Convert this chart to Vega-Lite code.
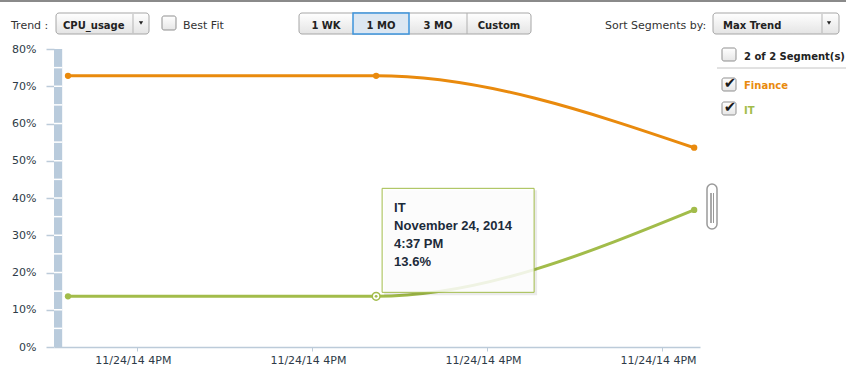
{
  "$schema": "https://vega.github.io/schema/vega-lite/v6.json",
  "width": 646,
  "height": 298,
  "autosize": {"type": "none"},
  "padding": {"left": 54, "top": 49, "right": 146, "bottom": 22},
  "background": "white",
  "config": {
    "view": {"stroke": null},
    "axis": {"labelFont": "DejaVu Sans", "labelFontSize": 11, "labelColor": "#2e3b48", "title": null, "labelOverlap": false},
    "axisY": {"tickSize": 8, "tickColor": "#bccbd9", "tickWidth": 1.5, "domain": false, "gridColor": "#e9e9e9", "labelPadding": 10, "tickCount": 12},
    "axisX": {"tickSize": 4, "tickColor": "#bccbd9", "domainColor": "#bccbd9", "domainWidth": 1.5, "labelPadding": 3, "labelOffset": -4, "grid": false, "labelFlush": false, "tickCount": 12}
  },
  "datasets": {
    "cpu": [
      {"segment": "Finance", "time": "2014-11-24T16:28:02", "cpu": 0.728},
      {"segment": "Finance", "time": "2014-11-24T16:36:50", "cpu": 0.728},
      {"segment": "Finance", "time": "2014-11-24T16:45:55", "cpu": 0.535},
      {"segment": "IT", "time": "2014-11-24T16:28:02", "cpu": 0.136},
      {"segment": "IT", "time": "2014-11-24T16:36:50", "cpu": 0.136},
      {"segment": "IT", "time": "2014-11-24T16:45:55", "cpu": 0.368}
    ],
    "hover": [
      {"segment": "IT", "time": "2014-11-24T16:36:50", "cpu": 0.136, "lines": ["IT", "November 24, 2014", "4:37 PM", "13.6%"]}
    ],
    "levels": [
      {"level": 0.05}, {"level": 0.1}, {"level": 0.15}, {"level": 0.2}, {"level": 0.25},
      {"level": 0.3}, {"level": 0.35}, {"level": 0.4}, {"level": 0.45}, {"level": 0.5},
      {"level": 0.55}, {"level": 0.6}, {"level": 0.65}, {"level": 0.7}, {"level": 0.75}
    ],
    "one": [{}]
  },
  "data": {"name": "cpu"},
  "layer": [
    {
      "data": {"name": "one"},
      "mark": {"type": "rect", "color": "#b9cbdc"},
      "encoding": {
        "x": {"datum": {"year": 2014, "month": 11, "date": 24, "hours": 16, "minutes": 27, "seconds": 38}, "type": "temporal",
          "scale": {"domain": [{"year": 2014, "month": 11, "date": 24, "hours": 16, "minutes": 27, "seconds": 38}, {"year": 2014, "month": 11, "date": 24, "hours": 16, "minutes": 46, "seconds": 5}]},
          "axis": {
            "values": [
              {"year": 2014, "month": 11, "date": 24, "hours": 16, "minutes": 30},
              {"year": 2014, "month": 11, "date": 24, "hours": 16, "minutes": 35},
              {"year": 2014, "month": 11, "date": 24, "hours": 16, "minutes": 40},
              {"year": 2014, "month": 11, "date": 24, "hours": 16, "minutes": 45}
            ],
            "format": "%m/%d/%y %-I%p", "formatType": "time"
          }},
        "x2": {"datum": {"year": 2014, "month": 11, "date": 24, "hours": 16, "minutes": 27, "seconds": 52}},
        "y": {"datum": 0, "type": "quantitative",
          "scale": {"domain": [0, 0.8]},
          "axis": {"values": [0, 0.1, 0.2, 0.3, 0.4, 0.5, 0.6, 0.7, 0.8], "format": ".0%", "tickCount": 12}},
        "y2": {"datum": 0.8}
      }
    },
    {
      "data": {"name": "levels"},
      "mark": {"type": "rule", "color": "white", "strokeWidth": 1.5},
      "encoding": {
        "x": {"datum": {"year": 2014, "month": 11, "date": 24, "hours": 16, "minutes": 27, "seconds": 38}, "type": "temporal"},
        "x2": {"datum": {"year": 2014, "month": 11, "date": 24, "hours": 16, "minutes": 27, "seconds": 52}},
        "y": {"field": "level", "type": "quantitative"}
      }
    },
    {
      "mark": {"type": "line", "interpolate": "monotone", "strokeWidth": 3, "strokeCap": "round"},
      "encoding": {
        "x": {"field": "time", "type": "temporal"},
        "y": {"field": "cpu", "type": "quantitative"},
        "color": {"field": "segment", "type": "nominal", "scale": {"domain": ["Finance", "IT"], "range": ["#e98a0d", "#a2bc4a"]}, "legend": null}
      }
    },
    {
      "mark": {"type": "point", "filled": true, "size": 40, "opacity": 1},
      "encoding": {
        "x": {"field": "time", "type": "temporal"},
        "y": {"field": "cpu", "type": "quantitative"},
        "color": {"field": "segment", "type": "nominal", "legend": null}
      }
    },
    {
      "data": {"name": "hover"},
      "mark": {"type": "point", "shape": "circle", "size": 60, "fill": "white", "stroke": "#a2bc4a", "strokeWidth": 1.5, "opacity": 1},
      "encoding": {"x": {"field": "time", "type": "temporal"}, "y": {"field": "cpu", "type": "quantitative"}}
    },
    {
      "data": {"name": "hover"},
      "mark": {"type": "point", "shape": "circle", "size": 8, "filled": true, "color": "#a2bc4a", "opacity": 1},
      "encoding": {"x": {"field": "time", "type": "temporal"}, "y": {"field": "cpu", "type": "quantitative"}}
    },
    {
      "data": {"name": "hover"},
      "mark": {"type": "rect", "color": "#000000", "opacity": 0.08, "xOffset": 8, "x2Offset": 161, "yOffset": -106, "y2Offset": -1},
      "encoding": {"x": {"field": "time", "type": "temporal"}, "x2": {"field": "time"}, "y": {"field": "cpu", "type": "quantitative"}, "y2": {"field": "cpu"}}
    },
    {
      "data": {"name": "hover"},
      "mark": {"type": "rect", "fill": "white", "fillOpacity": 0.85, "stroke": "#a2bc4a", "strokeWidth": 1, "xOffset": 6, "x2Offset": 158, "yOffset": -108, "y2Offset": -4},
      "encoding": {"x": {"field": "time", "type": "temporal"}, "x2": {"field": "time"}, "y": {"field": "cpu", "type": "quantitative"}, "y2": {"field": "cpu"}}
    },
    {
      "data": {"name": "hover"},
      "mark": {"type": "text", "align": "left", "baseline": "alphabetic", "font": "Liberation Sans", "fontWeight": "bold", "fontSize": 13, "lineHeight": 18, "color": "#1c2b3a", "xOffset": 18, "yOffset": -84},
      "encoding": {"x": {"field": "time", "type": "temporal"}, "y": {"field": "cpu", "type": "quantitative"}, "text": {"field": "lines"}}
    },

    {"data": {"name": "one"}, "mark": {"type": "rule", "color": "#8a8a8a", "strokeWidth": 2},
      "encoding": {"x": {"value": -54}, "x2": {"value": 792}, "y": {"value": -48}}},

    {"data": {"name": "one"}, "mark": {"type": "text", "text": "Trend :", "align": "left", "font": "DejaVu Sans", "fontSize": 11, "color": "#333333"},
      "encoding": {"x": {"value": -43}, "y": {"value": -23}}},
    {"data": {"name": "one"}, "mark": {"type": "rect", "cornerRadius": 3, "stroke": "#a6a6a6", "strokeWidth": 1,
      "fill": {"gradient": "linear", "x1": 0, "y1": 0, "x2": 0, "y2": 1, "stops": [{"offset": 0, "color": "#ffffff"}, {"offset": 1, "color": "#e4e4e4"}]}},
      "encoding": {"x": {"value": 2}, "x2": {"value": 95}, "y": {"value": -36}, "y2": {"value": -15}}},
    {"data": {"name": "one"}, "mark": {"type": "rule", "color": "#b5b5b5"},
      "encoding": {"x": {"value": 79}, "y": {"value": -35}, "y2": {"value": -16}}},
    {"data": {"name": "one"}, "mark": {"type": "text", "text": "CPU_usage", "align": "left", "font": "DejaVu Sans", "fontWeight": "bold", "fontSize": 10, "color": "#222222"},
      "encoding": {"x": {"value": 9}, "y": {"value": -23}}},
    {"data": {"name": "one"}, "mark": {"type": "point", "shape": "triangle-down", "size": 18, "filled": true, "color": "#222222", "opacity": 1},
      "encoding": {"x": {"value": 87}, "y": {"value": -26}}},

    {"data": {"name": "one"}, "mark": {"type": "rect", "cornerRadius": 2, "stroke": "#8f8f8f", "strokeWidth": 1,
      "fill": {"gradient": "linear", "x1": 0, "y1": 0, "x2": 0, "y2": 1, "stops": [{"offset": 0, "color": "#ffffff"}, {"offset": 1, "color": "#e6e6e6"}]}},
      "encoding": {"x": {"value": 108}, "x2": {"value": 122}, "y": {"value": -33}, "y2": {"value": -19}}},
    {"data": {"name": "one"}, "mark": {"type": "text", "text": "Best Fit", "align": "left", "font": "DejaVu Sans", "fontSize": 11, "color": "#333333"},
      "encoding": {"x": {"value": 129}, "y": {"value": -23}}},

    {"data": {"name": "one"}, "mark": {"type": "rect", "cornerRadius": 3, "stroke": "#a6a6a6", "strokeWidth": 1,
      "fill": {"gradient": "linear", "x1": 0, "y1": 0, "x2": 0, "y2": 1, "stops": [{"offset": 0, "color": "#ffffff"}, {"offset": 1, "color": "#e4e4e4"}]}},
      "encoding": {"x": {"value": 245}, "x2": {"value": 477}, "y": {"value": -36}, "y2": {"value": -15}}},
    {"data": {"name": "one"}, "mark": {"type": "rect", "fill": "#dce7f2", "stroke": "#3d94dc", "strokeWidth": 1.5},
      "encoding": {"x": {"value": 299}, "x2": {"value": 355}, "y": {"value": -36}, "y2": {"value": -15}}},
    {"data": {"name": "one"}, "mark": {"type": "rule", "color": "#b0b0b0"},
      "encoding": {"x": {"value": 413}, "y": {"value": -36}, "y2": {"value": -15}}},
    {"data": {"name": "one"}, "mark": {"type": "text", "text": "1 WK", "align": "center", "font": "DejaVu Sans", "fontWeight": "bold", "fontSize": 10, "color": "#222222"},
      "encoding": {"x": {"value": 272}, "y": {"value": -23}}},
    {"data": {"name": "one"}, "mark": {"type": "text", "text": "1 MO", "align": "center", "font": "DejaVu Sans", "fontWeight": "bold", "fontSize": 10, "color": "#222222"},
      "encoding": {"x": {"value": 327}, "y": {"value": -23}}},
    {"data": {"name": "one"}, "mark": {"type": "text", "text": "3 MO", "align": "center", "font": "DejaVu Sans", "fontWeight": "bold", "fontSize": 10, "color": "#222222"},
      "encoding": {"x": {"value": 384}, "y": {"value": -23}}},
    {"data": {"name": "one"}, "mark": {"type": "text", "text": "Custom", "align": "center", "font": "DejaVu Sans", "fontWeight": "bold", "fontSize": 10, "color": "#222222"},
      "encoding": {"x": {"value": 445}, "y": {"value": -23}}},

    {"data": {"name": "one"}, "mark": {"type": "text", "text": "Sort Segments by:", "align": "left", "font": "DejaVu Sans", "fontSize": 11, "color": "#333333"},
      "encoding": {"x": {"value": 551}, "y": {"value": -23}}},
    {"data": {"name": "one"}, "mark": {"type": "rect", "cornerRadius": 3, "stroke": "#a6a6a6", "strokeWidth": 1,
      "fill": {"gradient": "linear", "x1": 0, "y1": 0, "x2": 0, "y2": 1, "stops": [{"offset": 0, "color": "#ffffff"}, {"offset": 1, "color": "#e4e4e4"}]}},
      "encoding": {"x": {"value": 659}, "x2": {"value": 785}, "y": {"value": -36}, "y2": {"value": -15}}},
    {"data": {"name": "one"}, "mark": {"type": "rule", "color": "#b5b5b5"},
      "encoding": {"x": {"value": 768}, "y": {"value": -35}, "y2": {"value": -16}}},
    {"data": {"name": "one"}, "mark": {"type": "text", "text": "Max Trend", "align": "left", "font": "DejaVu Sans", "fontWeight": "bold", "fontSize": 10, "color": "#222222"},
      "encoding": {"x": {"value": 669}, "y": {"value": -23}}},
    {"data": {"name": "one"}, "mark": {"type": "point", "shape": "triangle-down", "size": 18, "filled": true, "color": "#222222", "opacity": 1},
      "encoding": {"x": {"value": 775}, "y": {"value": -26}}},

    {"data": {"name": "one"}, "mark": {"type": "rect", "cornerRadius": 2, "stroke": "#8f8f8f", "strokeWidth": 1,
      "fill": {"gradient": "linear", "x1": 0, "y1": 0, "x2": 0, "y2": 1, "stops": [{"offset": 0, "color": "#ffffff"}, {"offset": 1, "color": "#e6e6e6"}]}},
      "encoding": {"x": {"value": 668}, "x2": {"value": 682}, "y": {"value": -1}, "y2": {"value": 12}}},
    {"data": {"name": "one"}, "mark": {"type": "text", "text": "2 of 2 Segment(s)", "align": "left", "font": "DejaVu Sans", "fontWeight": "bold", "fontSize": 10, "color": "#222222"},
      "encoding": {"x": {"value": 690}, "y": {"value": 8}}},
    {"data": {"name": "one"}, "mark": {"type": "rule", "color": "#c4c4c4", "strokeWidth": 1},
      "encoding": {"x": {"value": 663}, "x2": {"value": 792}, "y": {"value": 19}}},

    {"data": {"name": "one"}, "mark": {"type": "rect", "cornerRadius": 2, "stroke": "#8f8f8f", "strokeWidth": 1,
      "fill": {"gradient": "linear", "x1": 0, "y1": 0, "x2": 0, "y2": 1, "stops": [{"offset": 0, "color": "#ffffff"}, {"offset": 1, "color": "#e6e6e6"}]}},
      "encoding": {"x": {"value": 668}, "x2": {"value": 682}, "y": {"value": 29}, "y2": {"value": 42}}},
    {"data": {"name": "one"}, "mark": {"type": "text", "text": "✔", "align": "center", "baseline": "middle", "font": "DejaVu Sans", "fontSize": 15, "color": "#1a1a1a"},
      "encoding": {"x": {"value": 676}, "y": {"value": 34}}},
    {"data": {"values": [{"segment": "Finance"}]}, "mark": {"type": "text", "align": "left", "font": "DejaVu Sans", "fontWeight": "bold", "fontSize": 10},
      "encoding": {"x": {"value": 690}, "y": {"value": 37}, "text": {"field": "segment"}, "color": {"field": "segment", "type": "nominal", "legend": null}}},

    {"data": {"name": "one"}, "mark": {"type": "rect", "cornerRadius": 2, "stroke": "#8f8f8f", "strokeWidth": 1,
      "fill": {"gradient": "linear", "x1": 0, "y1": 0, "x2": 0, "y2": 1, "stops": [{"offset": 0, "color": "#ffffff"}, {"offset": 1, "color": "#e6e6e6"}]}},
      "encoding": {"x": {"value": 668}, "x2": {"value": 682}, "y": {"value": 53}, "y2": {"value": 66}}},
    {"data": {"name": "one"}, "mark": {"type": "text", "text": "✔", "align": "center", "baseline": "middle", "font": "DejaVu Sans", "fontSize": 15, "color": "#1a1a1a"},
      "encoding": {"x": {"value": 676}, "y": {"value": 58}}},
    {"data": {"values": [{"segment": "IT"}]}, "mark": {"type": "text", "align": "left", "font": "DejaVu Sans", "fontWeight": "bold", "fontSize": 10},
      "encoding": {"x": {"value": 690}, "y": {"value": 62}, "text": {"field": "segment"}, "color": {"field": "segment", "type": "nominal", "legend": null}}},

    {"data": {"name": "one"}, "mark": {"type": "rect", "cornerRadius": 5, "fill": "white", "stroke": "#9a9a9a", "strokeWidth": 1.5},
      "encoding": {"x": {"value": 653}, "x2": {"value": 663}, "y": {"value": 135}, "y2": {"value": 180}}},
    {"data": {"name": "one"}, "mark": {"type": "rule", "color": "#555555", "strokeWidth": 1},
      "encoding": {"x": {"value": 657}, "y": {"value": 144}, "y2": {"value": 174}}},
    {"data": {"name": "one"}, "mark": {"type": "rule", "color": "#999999", "strokeWidth": 1},
      "encoding": {"x": {"value": 659.5}, "y": {"value": 144}, "y2": {"value": 174}}}
  ]
}
